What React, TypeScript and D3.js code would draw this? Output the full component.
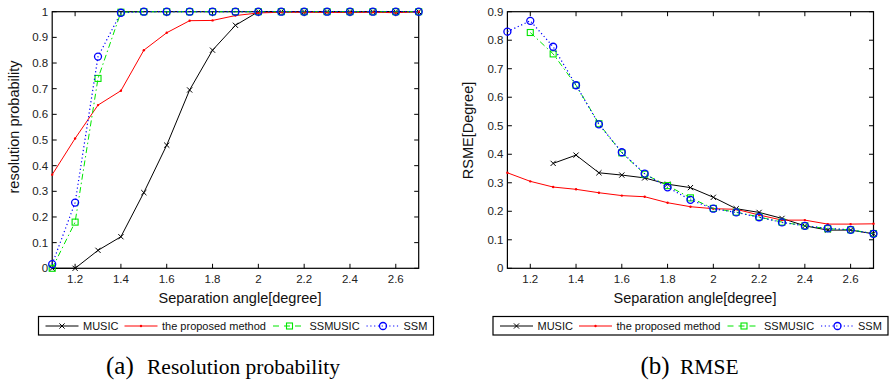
import React, { useEffect, useRef } from "react";
import * as d3 from "d3";

// separation angle in degrees
const angles = [1.1, 1.2, 1.3, 1.4, 1.5, 1.6, 1.7, 1.8, 1.9, 2.0, 2.1, 2.2, 2.3, 2.4, 2.5, 2.6, 2.7];
const xTicks = [1.2, 1.4, 1.6, 1.8, 2, 2.2, 2.4, 2.6];

// (a) resolution probability
const probMusic = [0, 0, 0.07, 0.123, 0.295, 0.48, 0.695, 0.85, 0.947, 1, 1, 1, 1, 1, 1, 1, 1];
const probProposed = [0.365, 0.506, 0.636, 0.692, 0.85, 0.918, 0.965, 0.966, 0.985, 0.995, 0.998, 0.998, 0.997, 0.997, 0.998, 0.996, 1];
const probSsmusic = [0, 0.18, 0.74, 0.998, 1, 1, 1, 1, 1, 1, 1, 1, 1, 1, 1, 1, 1];
const probSsm = [0.016, 0.256, 0.825, 0.996, 1, 1, 1, 1, 1, 1, 1, 1, 1, 1, 1, 1, 1];
const probTicks = [0, 0.1, 0.2, 0.3, 0.4, 0.5, 0.6, 0.7, 0.8, 0.9, 1];

// (b) RMSE
const rmseMusic = [null, null, 0.368, 0.397, 0.335, 0.327, 0.317, 0.295, 0.283, 0.249, 0.209, 0.196, 0.175, 0.149, 0.134, 0.134, 0.121];
const rmseProposed = [0.335, 0.305, 0.285, 0.277, 0.265, 0.255, 0.251, 0.23, 0.216, 0.209, 0.207, 0.187, 0.169, 0.169, 0.155, 0.155, 0.156];
const rmseSsmusic = [null, 0.827, 0.752, 0.642, 0.507, 0.405, 0.33, 0.29, 0.247, 0.21, 0.197, 0.18, 0.162, 0.149, 0.139, 0.135, 0.122];
const rmseSsm = [0.83, 0.868, 0.777, 0.642, 0.505, 0.407, 0.332, 0.284, 0.24, 0.209, 0.196, 0.179, 0.161, 0.149, 0.14, 0.135, 0.121];
const rmseTicks = [0, 0.1, 0.2, 0.3, 0.4, 0.5, 0.6, 0.7, 0.8, 0.9];

const seriesNames = ["MUSIC", "the proposed method", "SSMUSIC", "SSM"];

const FONT = "'Liberation Sans', Arial, Helvetica, sans-serif";
const SERIF = "'Liberation Serif', 'Times New Roman', serif";
const styles = [
  { color: "#000000", dash: null, marker: "x" },
  { color: "#ff0000", dash: null, marker: "dot" },
  { color: "#00e600", dash: "6,3,1.5,3", marker: "square" },
  { color: "#0000ff", dash: "1.2,2.6", marker: "circle" },
];

function drawMarker(g, kind, x, y, color) {
  if (kind === "x") {
    const s = 2.6;
    g.append("path")
      .attr("d", `M${x - s},${y - s}L${x + s},${y + s}M${x - s},${y + s}L${x + s},${y - s}`)
      .attr("stroke", color).attr("stroke-width", 1).attr("fill", "none");
  } else if (kind === "dot") {
    g.append("circle").attr("cx", x).attr("cy", y).attr("r", 1.2).attr("fill", color);
  } else if (kind === "square") {
    g.append("rect").attr("x", x - 3).attr("y", y - 3).attr("width", 6).attr("height", 6)
      .attr("fill", "none").attr("stroke", color).attr("stroke-width", 1.1);
  } else {
    g.append("circle").attr("cx", x).attr("cy", y).attr("r", 3.5)
      .attr("fill", "none").attr("stroke", color).attr("stroke-width", 1.3);
  }
}

function drawPanel(svg, opts) {
  const { left, right, top, bottom, yMax, yTicks, series, yLabel, yLabelPos, legendX, caption, capX, capX2, labelCx } = opts;
  const g = svg.append("g");
  const x = d3.scaleLinear().domain([1.1, 2.7]).range([left, right]);
  const y = d3.scaleLinear().domain([0, yMax]).range([bottom, top]);

  // ticks on all four sides, pointing inward
  const tl = 4.5;
  xTicks.forEach((t) => {
    g.append("line").attr("x1", x(t)).attr("x2", x(t)).attr("y1", bottom).attr("y2", bottom - tl).attr("stroke", "#000");
    g.append("line").attr("x1", x(t)).attr("x2", x(t)).attr("y1", top).attr("y2", top + tl).attr("stroke", "#000");
    g.append("text").attr("x", x(t)).attr("y", bottom + 14.5).attr("text-anchor", "middle")
      .attr("font-family", FONT).attr("font-size", 11.5).attr("fill", "#222").text(String(t));
  });
  yTicks.forEach((t) => {
    g.append("line").attr("x1", left).attr("x2", left + tl).attr("y1", y(t)).attr("y2", y(t)).attr("stroke", "#000");
    g.append("line").attr("x1", right).attr("x2", right - tl).attr("y1", y(t)).attr("y2", y(t)).attr("stroke", "#000");
    g.append("text").attr("x", left - 4).attr("y", y(t) + 4).attr("text-anchor", "end")
      .attr("font-family", FONT).attr("font-size", 11.5).attr("fill", "#222").text(String(t));
  });
  g.append("rect").attr("x", left).attr("y", top).attr("width", right - left).attr("height", bottom - top)
    .attr("fill", "none").attr("stroke", "#000").attr("stroke-width", 1.2);

  // series
  series.forEach((vals, i) => {
    const st = styles[i];
    const pts = angles.map((a, k) => [a, vals[k]]);
    const line = d3.line().defined((d) => d[1] != null).x((d) => x(d[0])).y((d) => y(d[1]));
    const p = g.append("path").attr("d", line(pts)).attr("fill", "none")
      .attr("stroke", st.color).attr("stroke-width", i === 3 ? 1.2 : 1);
    if (st.dash) p.attr("stroke-dasharray", st.dash);
    pts.filter((d) => d[1] != null).forEach((d) => drawMarker(g, st.marker, x(d[0]), y(d[1]), st.color));
  });

  // axis labels
  g.append("text").attr("x", labelCx).attr("y", bottom + 35).attr("text-anchor", "middle")
    .attr("font-family", FONT).attr("font-size", 14.5).attr("fill", "#111").text("Separation angle[degree]");
  g.append("text").attr("transform", `translate(${yLabelPos[0]},${yLabelPos[1]}) rotate(-90)`)
    .attr("text-anchor", "middle").attr("font-family", FONT).attr("font-size", 14.5).attr("fill", "#111").text(yLabel);

  // legend
  const ly = 316.5;
  const lg = g.append("g").attr("transform", `translate(${legendX},${ly})`);
  lg.append("rect").attr("width", 395).attr("height", 18.5).attr("fill", "#fff").attr("stroke", "#000").attr("stroke-width", 1.2);
  const items = [
    { l: 7, t: 44.5 },
    { l: 86, t: 123.5 },
    { l: 234.5, t: 271 },
    { l: 328, t: 365 },
  ];
  items.forEach((it, i) => {
    const st = styles[i];
    const cy = 9.5;
    const ln = lg.append("line").attr("x1", it.l).attr("x2", it.l + 33).attr("y1", cy).attr("y2", cy)
      .attr("stroke", st.color).attr("stroke-width", i === 3 ? 1.2 : 1);
    if (st.dash) ln.attr("stroke-dasharray", i === 2 ? "6,5" : st.dash);
    drawMarker(lg, st.marker, it.l + 16.5, cy, st.color);
    lg.append("text").attr("x", it.t).attr("y", cy + 4).attr("font-family", FONT).attr("font-size", 11)
      .attr("fill", "#111").text(seriesNames[i]);
  });

  // caption
  g.append("text").attr("x", capX).attr("y", 374).attr("font-family", SERIF).attr("font-size", 25)
    .attr("fill", "#000").text(caption[0]);
  g.append("text").attr("x", capX2).attr("y", 374).attr("font-family", SERIF).attr("font-size", 21.5)
    .attr("fill", "#000").text(caption[1]);
}

export default function App() {
  const ref = useRef(null);
  useEffect(() => {
    const svg = d3.select(ref.current);
    svg.selectAll("*").remove();
    svg.append("rect").attr("width", 889).attr("height", 381).attr("fill", "#fff");
    drawPanel(svg, {
      left: 52.2, right: 418.7, top: 11.7, bottom: 268.3, yMax: 1, yTicks: probTicks,
      series: [probMusic, probProposed, probSsmusic, probSsm],
      yLabel: "resolution probability", yLabelPos: [19, 127], legendX: 38.5,
      caption: ["(a)", "Resolution probability"], capX: 106, capX2: 147, labelCx: 240,
    });
    drawPanel(svg, {
      left: 507.4, right: 873.5, top: 11.7, bottom: 268.3, yMax: 0.9, yTicks: rmseTicks,
      series: [rmseMusic, rmseProposed, rmseSsmusic, rmseSsm],
      yLabel: "RSME[Degree]", yLabelPos: [473, 130.5], legendX: 493,
      caption: ["(b)", "RMSE"], capX: 640.5, capX2: 680, labelCx: 695,
    });
  }, []);
  return (
    <svg ref={ref} width={889} height={381} style={{ position: "absolute", left: 0, top: 0 }} />
  );
}
